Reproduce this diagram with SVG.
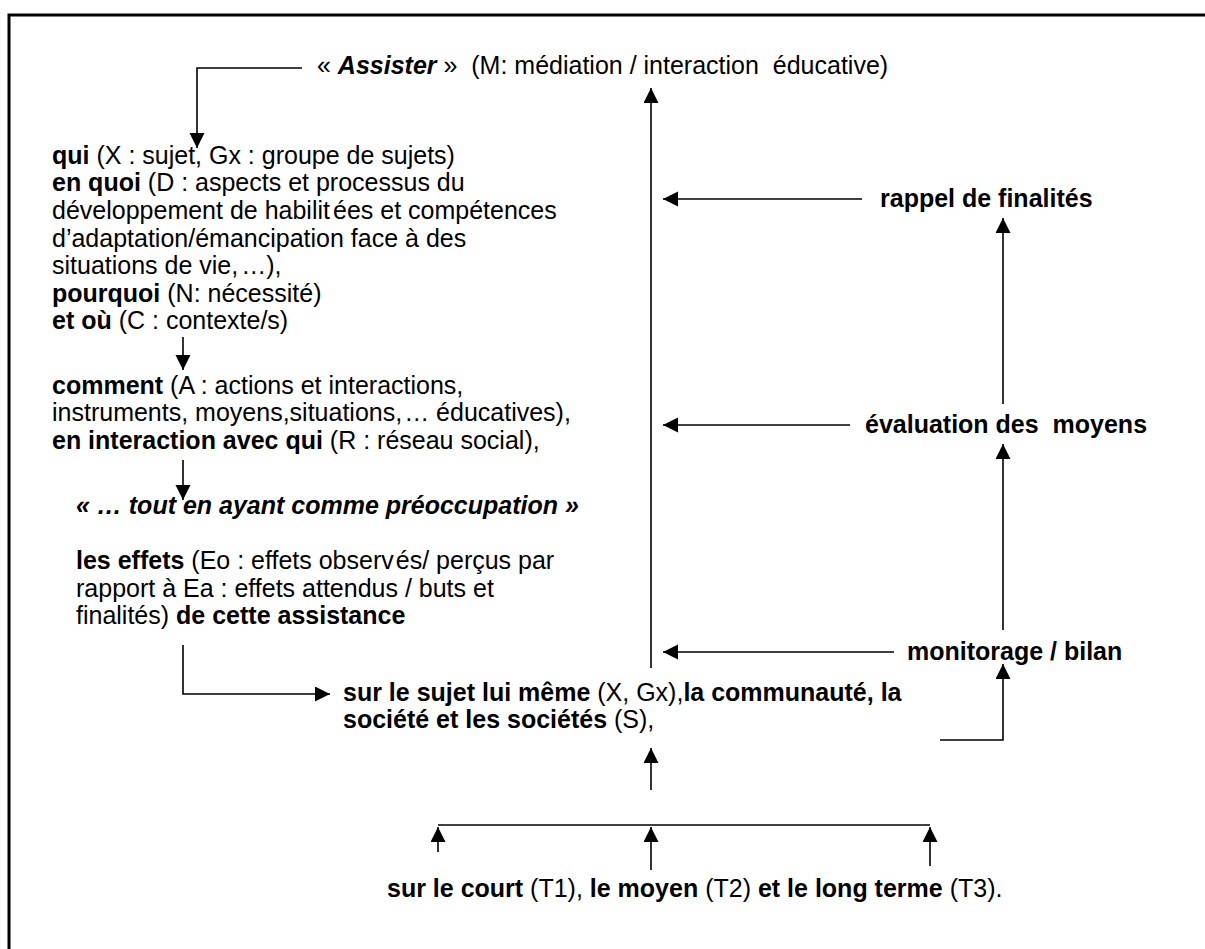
<svg xmlns="http://www.w3.org/2000/svg" width="1205" height="949" viewBox="0 0 1205 949">
  <style>
    .t { font-family: "Liberation Sans", Arial, Helvetica, sans-serif; font-size: 25px; fill: #000; }
    .b { font-weight: bold; }
    .bi { font-weight: bold; font-style: italic; }
    .ln { fill: none; stroke: #000; stroke-width: 1.6; }
    .frame { fill: none; stroke: #000; stroke-width: 3; }
  </style>
  <defs>
    <marker id="arr" markerUnits="userSpaceOnUse" markerWidth="16" markerHeight="16" refX="15" refY="7.5" orient="auto">
      <path d="M0,0 L15,7.5 L0,15 Z" fill="#000"/>
    </marker>
  </defs>
  <rect width="1205" height="949" fill="#fff"/>
  <path class="frame" d="M9,949 V15 H1205"/>

  <g id="assister">
    <text class="t" x="317" y="74" xml:space="preserve">« <tspan class="bi">Assister</tspan> »  (M: médiation / interaction  éducative)</text>
  </g>

  <g id="questions">
    <text class="t" x="52" y="164"><tspan class="b">qui</tspan> (X : sujet, Gx : groupe de sujets)</text>
    <text class="t" x="52" y="191"><tspan class="b">en quoi</tspan> (D : aspects et processus du</text>
    <text class="t" x="52" y="219">développement de habilit<tspan dx="3">ées</tspan> et compétences</text>
    <text class="t" x="52" y="247">d’adaptation/émancipation face à des</text>
    <text class="t" x="52" y="274">situations de vie,<tspan dx="3">…),</tspan></text>
    <text class="t" x="52" y="302"><tspan class="b">pourquoi</tspan> (N: nécessité)</text>
    <text class="t" x="52" y="329"><tspan class="b">et où</tspan> (C : contexte/s)</text>
  </g>

  <g id="comment">
    <text class="t" x="52" y="394"><tspan class="b">comment</tspan> (A : actions et interactions,</text>
    <text class="t" x="52" y="421">instruments, moyens,situations,<tspan dx="2">…</tspan> éducatives),</text>
    <text class="t" x="52" y="449"><tspan class="b">en interaction avec qui</tspan> (R : réseau social),</text>
  </g>

  <g id="preoccupation">
    <text class="t bi" x="76" y="514">« … tout en ayant comme préoccupation »</text>
  </g>

  <g id="effets">
    <text class="t" x="76" y="569"><tspan class="b">les effets</tspan> (Eo : effets observ<tspan dx="2">és/</tspan> perçus par</text>
    <text class="t" x="76" y="597">rapport à Ea : effets attendus / buts et</text>
    <text class="t" x="76" y="624">finalités) <tspan class="b">de cette assistance</tspan></text>
  </g>

  <g id="cibles">
    <text class="t" x="343" y="701"><tspan class="b">sur le sujet lui même</tspan> (X, Gx),<tspan class="b">la communauté, la</tspan></text>
    <text class="t" x="343" y="728"><tspan class="b">société et les sociétés</tspan> (S),</text>
  </g>

  <g id="termes">
    <text class="t" x="387" y="897"><tspan class="b">sur le court</tspan> (T1), <tspan class="b">le moyen</tspan> (T2) <tspan class="b">et le long terme</tspan> (T3).</text>
  </g>

  <g id="rappel">
    <text class="t b" x="880" y="207">rappel de finalités</text>
  </g>
  <g id="evaluation">
    <text class="t b" x="865" y="433" xml:space="preserve">évaluation des  moyens</text>
  </g>
  <g id="monitorage">
    <text class="t b" x="907" y="660">monitorage / bilan</text>
  </g>

  <g id="connectors">
    <!-- Assister down to the questions -->
    <path class="ln" d="M302,68 H197 V148" marker-end="url(#arr)"/>
    <!-- between text blocks -->
    <path class="ln" d="M183,337 V370" marker-end="url(#arr)"/>
    <path class="ln" d="M183,460 V500" marker-end="url(#arr)"/>
    <!-- effects to targets -->
    <path class="ln" d="M183,645 V694 H330" marker-end="url(#arr)"/>
    <!-- main upward spine -->
    <path class="ln" d="M651,668 V88" marker-end="url(#arr)"/>
    <!-- feedback arrows into the spine -->
    <path class="ln" d="M862,199 H663" marker-end="url(#arr)"/>
    <path class="ln" d="M850,425 H663" marker-end="url(#arr)"/>
    <path class="ln" d="M894,652 H663" marker-end="url(#arr)"/>
    <!-- right column upward chain -->
    <path class="ln" d="M940,740 H1003 V664" marker-end="url(#arr)"/>
    <path class="ln" d="M1003,630 V444" marker-end="url(#arr)"/>
    <path class="ln" d="M1003,404 V218" marker-end="url(#arr)"/>
    <!-- time horizons -->
    <path class="ln" d="M651,790 V748" marker-end="url(#arr)"/>
    <path class="ln" d="M438,825 H930"/>
    <path class="ln" d="M438,852 V827" marker-end="url(#arr)"/>
    <path class="ln" d="M651,870 V827" marker-end="url(#arr)"/>
    <path class="ln" d="M930,866 V827" marker-end="url(#arr)"/>
  </g>
</svg>
